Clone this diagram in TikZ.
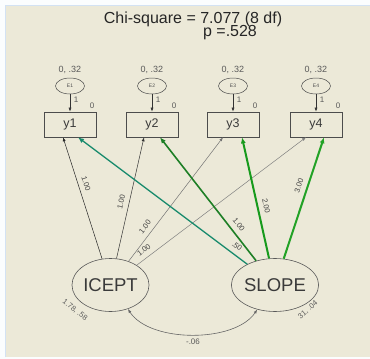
\documentclass[tikz,border=0pt]{standalone}
\usepackage{fontspec}
\setmainfont{Liberation Sans}
\usetikzlibrary{shapes.geometric,arrows.meta,calc}
\definecolor{panel}{HTML}{ECE9D8}
\definecolor{frameblue}{HTML}{D3E2F3}
\definecolor{inkgray}{HTML}{3A3A3A}
\definecolor{gteal}{HTML}{178A6C}
\definecolor{gdark}{HTML}{1E7F26}
\definecolor{gmid}{HTML}{179A1C}
\definecolor{glight}{HTML}{22A226}
\begin{document}
\begin{tikzpicture}[x=1pt,y=-1pt,
  latent/.style={ellipse, draw=black!65, line width=0.6pt, minimum width=75pt,
    minimum height=53pt, inner sep=0pt, text=inkgray,
    font=\fontsize{18.5}{20}\selectfont},
  errnode/.style={ellipse, draw=black!70, line width=0.5pt, minimum width=29pt,
    minimum height=16pt, inner sep=0pt, text=black!70,
    font=\fontsize{5}{5}\selectfont},
  obs/.style={draw=black!70, line width=0.6pt, minimum width=52pt,
    minimum height=25pt, inner sep=0pt, text=inkgray,
    font=\fontsize{12.5}{13}\selectfont},
  small/.style={text=black!65, inner sep=0pt, font=\fontsize{#1}{#1}\selectfont},
  loadlbl/.style={sloped, above=5pt, inner sep=0pt, text=black!75,
    font=\fontsize{7.5}{7.5}\selectfont},
  thinpath/.style={line width=0.5pt, -{Latex[length=4pt,width=3pt]}},
  greenpath/.style={-{Latex[length=6pt,width=5pt]}},
]
\useasboundingbox (0,0) rectangle (370,359);
% window frame and panel
\fill[white!92!frameblue] (0,0) rectangle (370,359);
\fill[panel] (6,6) rectangle (370,357);
\draw[frameblue, line width=1pt] (5.5,357) -- (5.5,5.5) -- (370,5.5);

% fit statistics
\node[text=black!85, inner sep=0pt, font=\fontsize{16}{18}\selectfont] (chi) at (193,19) {Chi-square = 7.077 (8 df)};
\node[text=black!85, inner sep=0pt, font=\fontsize{16}{18}\selectfont] (pval) at (230,32.5) {p =.528};

% observed variables
\node[obs] (y1) at (70,124.5) {y1};
\node[obs] (y2) at (152,124.5) {y2};
\node[obs] (y3) at (233,124.5) {y3};
\node[obs] (y4) at (316,124.5) {y4};

% error terms
\foreach \i/\x in {1/70,2/152,3/233,4/316}{
  \node[errnode] (e\i) at (\x,86) {E\i};
  \node[small=9] (ev\i) at (\x,70) {0, .32};
  \draw[thinpath, black!80] (e\i.south) -- (y\i.north);
  \node[small=8] (one\i) at (\x+6,99.5) {1};
  \node[small=8] (int\i) at (\x+22,106) {0};
}

% latent growth factors
\node[latent] (ic) at (110.5,285) {ICEPT};
\node[latent] (sl) at (275,285) {SLOPE};

% intercept loadings
\draw[thinpath, black!85] (ic) -- ($(y1.south)+(-7,0)$)
  node[loadlbl, pos=0.6] (l1) {1.00};
\draw[thinpath, black!80] (ic) -- ($(y2.south)+(-8,0)$)
  node[loadlbl, pos=0.45] (l2) {1.00};
\draw[thinpath, black!55] (ic) -- ($(y3.south)+(-10,0)$)
  node[loadlbl, pos=0.24] (l3) {1.00};
\draw[thinpath, black!50] (ic) -- ($(y4.south)+(-10,0)$)
  node[loadlbl, pos=0.07] (l4) {1.00};

% slope loadings
\draw[greenpath, gteal, line width=1.3pt] (sl) -- ($(y1.south)+(8,0)$)
  node[loadlbl, pos=0.09] (s1) {.50};
\draw[greenpath, gdark, line width=1.6pt] (sl) -- ($(y2.south)+(8,0)$)
  node[loadlbl, pos=0.25] (s2) {1.00};
\draw[greenpath, gmid, line width=2pt] (sl) -- ($(y3.south)+(9,0)$)
  node[loadlbl, pos=0.42] (s3) {2.00};
\draw[greenpath, glight, line width=2pt] (sl) -- ($(y4.south)+(8,0)$)
  node[loadlbl, pos=0.58] (s4) {3.00};

% factor means and variances
\node[small=7.5, rotate=-38] (icv) at (75,310) {1.78, .58};
\node[small=7.5, rotate=40] (slv) at (308,310) {31, .04};

% factor covariance
\draw[black!60, line width=0.6pt, {Latex[length=4pt,width=3pt]}-{Latex[length=4pt,width=3pt]}]
  (ic.-54) .. controls (150,343) and (235,343) .. (sl.-126);
\node[small=8] (cov) at (193,342) {-.06};
\end{tikzpicture}
\end{document}
